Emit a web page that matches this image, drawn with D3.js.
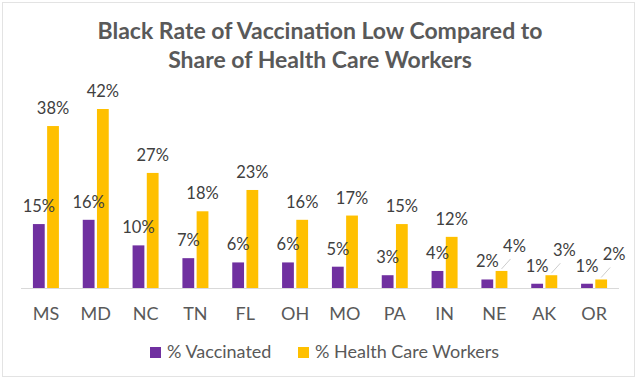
<!DOCTYPE html>
<html>
<head>
<meta charset="utf-8">
<script src="https://cdn.jsdelivr.net/npm/d3@7"></script>
<style>
  body { margin: 0; background: #fff; }
  svg { display: block; font-family: Lato, "Open Sans", sans-serif; }
</style>
</head>
<body>
<div id="chart"></div>
<script>
// chart data
var states = ["MS", "MD", "NC", "TN", "FL", "OH", "MO", "PA", "IN", "NE", "AK", "OR"];
var vaccinated = [15, 16, 10, 7, 6, 6, 5, 3, 4, 2, 1, 1];
var healthWorkers = [38, 42, 27, 18, 23, 16, 17, 15, 12, 4, 3, 2];
var seriesNames = ["% Vaccinated", "% Health Care Workers"];
var titleLines = ["Black Rate of Vaccination Low Compared to", "Share of Health Care Workers"];

var svgWidth = 640;
var svgHeight = 382;
var colors = ["#7030a0", "#ffc000"];

var svg = d3.select("#chart")
  .append("svg")
  .attr("width", svgWidth)
  .attr("height", svgHeight);

// outer frame
svg.append("rect")
  .attr("x", 2.5).attr("y", 2.5)
  .attr("width", 632).attr("height", 374)
  .attr("fill", "#fff")
  .attr("stroke", "#e3e3e3");

// title
svg.selectAll(".title")
  .data(titleLines)
  .enter()
  .append("text")
  .attr("class", "title")
  .attr("x", 320)
  .attr("y", (d, i) => 39 + i * 29)
  .attr("text-anchor", "middle")
  .attr("font-size", 23)
  .attr("font-weight", "bold")
  .attr("fill", "#595959")
  .text(d => d);

// scales
var x = d3.scaleBand()
  .domain(states)
  .range([21, 619]);

var xInner = d3.scaleBand()
  .domain([0, 1])
  .range([x.bandwidth() / 2 - 13, x.bandwidth() / 2 + 13])
  .paddingInner(0.17);

var y = d3.scaleLinear()
  .domain([0, 42])
  .range([288, 109]);

var rows = states.map((s, i) => ({ state: s, values: [vaccinated[i], healthWorkers[i]] }));

// baseline
svg.append("line")
  .attr("x1", 21).attr("x2", 619)
  .attr("y1", y(0) + 0.5).attr("y2", y(0) + 0.5)
  .attr("stroke", "#d9d9d9");

var groups = svg.selectAll(".state")
  .data(rows)
  .enter()
  .append("g")
  .attr("class", "state")
  .attr("transform", d => `translate(${x(d.state)},0)`);

groups.selectAll("rect")
  .data(d => d.values)
  .enter()
  .append("rect")
  .attr("x", (d, i) => xInner(i))
  .attr("y", d => y(d))
  .attr("width", xInner.bandwidth())
  .attr("height", d => y(0) - y(d))
  .attr("fill", (d, i) => colors[i]);

// value labels; tiny yellow bars get a callout label pushed up and right
function isCallout(v, i) { return i === 1 && v <= 4; }

groups.selectAll(".leader")
  .data(d => d.values.map((v, i) => ({ v: v, i: i })).filter(o => isCallout(o.v, o.i)))
  .enter()
  .append("line")
  .attr("class", "leader")
  .attr("x1", o => xInner(o.i) + xInner.bandwidth() / 2)
  .attr("y1", o => y(o.v) - 2)
  .attr("x2", o => xInner(o.i) + xInner.bandwidth() / 2 + 9)
  .attr("y2", o => y(o.v) - 12)
  .attr("stroke", "#bfbfbf")
  .attr("stroke-width", 0.8);

groups.selectAll(".val")
  .data(d => d.values.map((v, i) => ({ v: v, i: i })))
  .enter()
  .append("text")
  .attr("class", "val")
  .attr("x", o => xInner(o.i) + xInner.bandwidth() / 2 + (isCallout(o.v, o.i) ? 13 : 0))
  .attr("y", o => y(o.v) - (isCallout(o.v, o.i) ? 19 : 12))
  .attr("text-anchor", "middle")
  .attr("font-size", 16.5)
  .attr("fill", "#404040")
  .text(o => o.v + "%");

// category labels
svg.selectAll(".cat")
  .data(states)
  .enter()
  .append("text")
  .attr("class", "cat")
  .attr("x", d => x(d) + x.bandwidth() / 2)
  .attr("y", 320)
  .attr("text-anchor", "middle")
  .attr("font-size", 18)
  .attr("fill", "#595959")
  .text(d => d);

// legend
var legendX = [150, 298];
var legend = svg.selectAll(".legend")
  .data(seriesNames)
  .enter()
  .append("g")
  .attr("class", "legend")
  .attr("transform", (d, i) => `translate(${legendX[i]},347)`);

legend.append("rect")
  .attr("width", 11).attr("height", 11)
  .attr("fill", (d, i) => colors[i]);

legend.append("text")
  .attr("x", 17)
  .attr("y", 11)
  .attr("font-size", 18)
  .attr("fill", "#595959")
  .text(d => d);
</script>
</body>
</html>
